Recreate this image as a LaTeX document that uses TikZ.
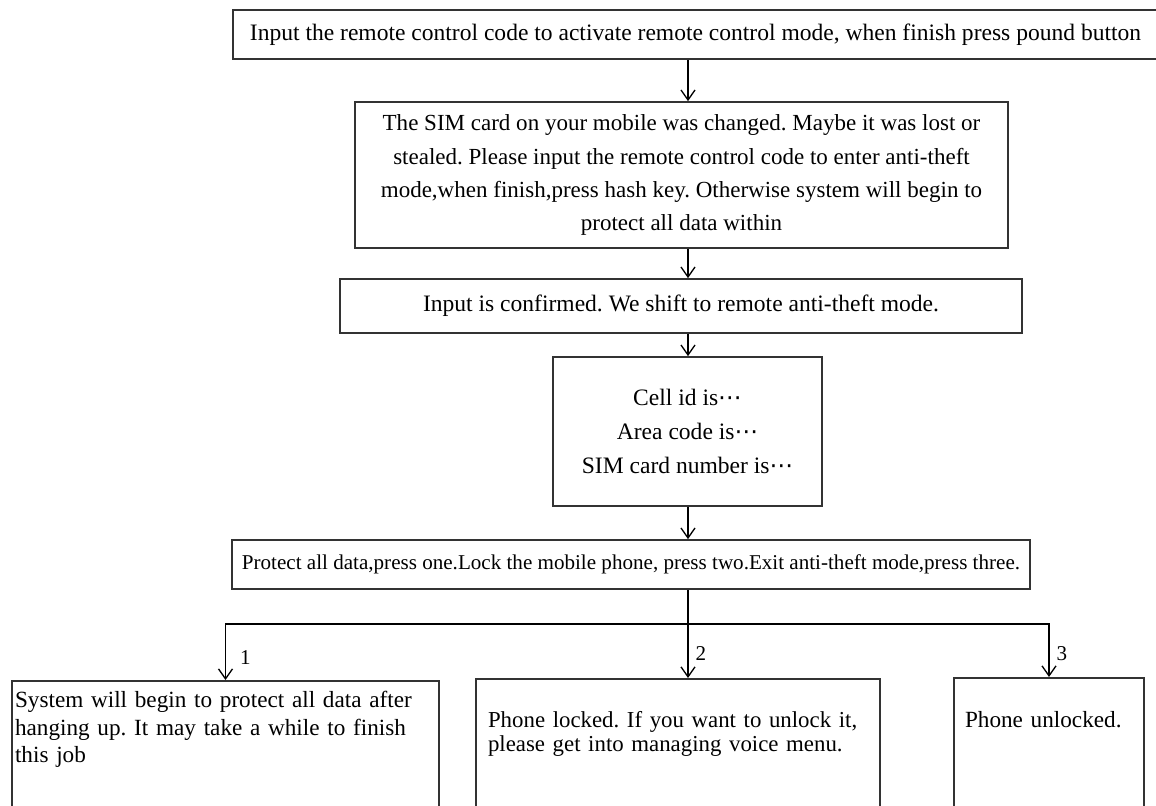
\documentclass[tikz,border=0pt]{standalone}
\usepackage{fontspec}
\setmainfont{Liberation Serif}
\newfontfamily\dotsfont{DejaVu Sans}
\usetikzlibrary{positioning,arrows.meta}
\frenchspacing

\begin{document}
\begin{tikzpicture}[x=0.02cm, y=-0.02cm,
    block/.style={rectangle, draw=black!80, line width=1pt, align=center, inner sep=0pt, font=\fontsize{13.4}{18.8}\selectfont},
    leftblock/.style={rectangle, draw=black!80, line width=1pt, align=left, anchor=north, inner ysep=0.12cm, text depth=3cm, font=\fontsize{13.2}{15.6}\selectfont},
    arrow/.style={-{Straight Barb[length=2mm, width=2.8mm]}, line width=0.75pt, draw=black},
    link/.style={line width=0.75pt, draw=black},
    num/.style={font=\fontsize{12}{14}\selectfont, inner sep=0pt}
]
    \useasboundingbox (0,0) rectangle (1156,805);
    \clip (0,0) rectangle (1156,805);

    % Nodes
    \node[block, minimum width=18.5cm, minimum height=0.98cm] (remote) at (695.5,34.5) {Input the remote control code to activate remote control mode, when finish press pound button};
    \node[block, minimum width=13.06cm, minimum height=2.92cm, font=\fontsize{13.1}{18.8}\selectfont] (simchg) at (681.5,175) {The SIM card on your mobile was changed. Maybe it was lost or\\stealed. Please input the remote control code to enter anti-theft\\mode,when finish,press hash key. Otherwise system will begin to\\protect all data within};
    \node[block, minimum width=13.64cm, minimum height=1.08cm] (confirm) at (681,306) {Input is confirmed. We shift to remote anti-theft mode.};
    \node[block, minimum width=5.38cm, minimum height=2.98cm, font=\fontsize{13.4}{19.6}\selectfont] (cellinfo) at (687.5,431.5) {Cell id is{\dotsfont ⋯}\\Area code is{\dotsfont ⋯}\\SIM card number is{\dotsfont ⋯}};
    \node[block, minimum width=15.96cm, minimum height=0.98cm, font=\fontsize{12}{14}\selectfont] (menu) at (631,564.5) {Protect all data,press one.Lock the mobile phone, press two.Exit anti-theft mode,press three.};

    \node[leftblock, inner xsep=0.06cm, text width=8.42cm, text height=0.42cm] (protect) at (225.5,680) {System will begin to protect all data after\\hanging up. It may take a while to finish\\this job};
    \node[leftblock, inner xsep=0.24cm, text width=7.6cm, text height=0.86cm, font=\fontsize{13}{13.2}\selectfont] (locked) at (678,678) {Phone locked. If you want to unlock it,\\please get into managing voice menu.};
    \node[leftblock, inner xsep=0.22cm, text width=3.36cm, text height=0.88cm] (unlocked) at (1049,677) {Phone unlocked.};

    % Arrows
    \coordinate (spine) at (688,0);
    \draw[arrow] (remote.south -| spine) -- (simchg.north -| spine);
    \draw[arrow] (simchg.south -| spine) -- (confirm.north -| spine);
    \draw[arrow] (confirm.south -| spine) -- (cellinfo.north -| spine);
    \draw[arrow] (cellinfo.south -| spine) -- (menu.north -| spine);

    % Branches for the three keys
    \draw[link] (menu.south -| spine) -- ++(0,34) coordinate (fork);
    \draw[arrow] (fork) -| node[num, pos=0.8, right=0.28cm] {1} (protect.north);
    \draw[arrow] (fork) -- node[num, pos=0.55, right=0.14cm] {2} (locked.north -| spine);
    \draw[arrow] (fork) -| node[num, pos=0.78, right=0.14cm] {3} (unlocked.north);
\end{tikzpicture}
\end{document}
